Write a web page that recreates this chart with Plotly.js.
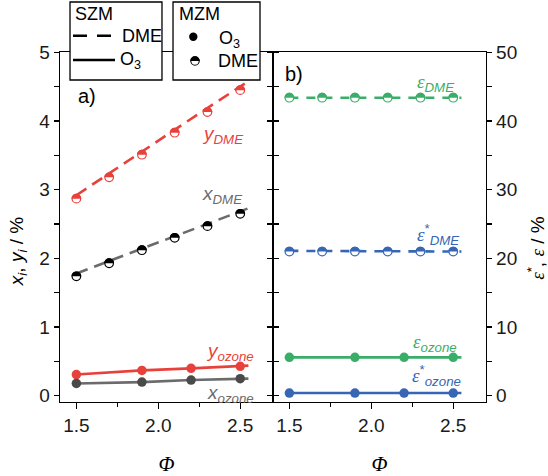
<!DOCTYPE html>
<html><head><meta charset="utf-8">
<script src="https://cdn.plot.ly/plotly-3.0.1.min.js"></script>
<style>html,body{margin:0;padding:0;background:#fff}</style>
</head><body>
<div id="chart" style="width:548px;height:476px"></div>
<script>
// ---- data ----
var phiMZM_DME = [1.5, 1.7, 1.9, 2.1, 2.3, 2.5];
var phiMZM_O3  = [1.5, 1.9, 2.2, 2.5];
var phiSZM_DME = [1.5, 1.7, 1.9, 2.1, 2.3, 2.55];
var phiSZM_O3  = [1.5, 1.9, 2.2, 2.5, 2.55];

// panel a (%, left axis)
var yDME_MZM = [2.87, 3.18, 3.51, 3.83, 4.13, 4.45];
var xDME_MZM = [1.74, 1.93, 2.12, 2.30, 2.47, 2.65];
var yDME_SZM = [2.92, 3.24, 3.55, 3.87, 4.19, 4.58];
var xDME_SZM = [1.78, 1.96, 2.14, 2.33, 2.51, 2.73];
var yO3_MZM = [0.31, 0.37, 0.40, 0.43];
var xO3_MZM = [0.18, 0.20, 0.23, 0.25];
var yO3_SZM = [0.31, 0.37, 0.40, 0.43, 0.44];
var xO3_SZM = [0.18, 0.20, 0.23, 0.25, 0.25];

// panel b (%, right axis)
var epsDME_MZM  = [43.4, 43.4, 43.4, 43.4, 43.4, 43.4];
var epssDME_MZM = [21.0, 21.0, 21.0, 21.0, 21.0, 21.0];
var epsDME_SZM  = [43.4, 43.4, 43.4, 43.4, 43.4, 43.4];
var epssDME_SZM = [21.1, 21.1, 21.1, 21.1, 21.1, 21.0];
var epsO3_MZM   = [5.6, 5.6, 5.6, 5.6];
var epssO3_MZM  = [0.4, 0.4, 0.4, 0.4];
var epsO3_SZM   = [5.6, 5.6, 5.6, 5.6, 5.6];
var epssO3_SZM  = [0.4, 0.4, 0.4, 0.4, 0.4];

var xTickText = ['1.5', '2.0', '2.5'];

// ---- style ----
var RED = '#e8413c', GRAY = '#6b6b6b', DARK = '#4a4a4a', BLACK = '#000000';
var GREEN = '#3aae68', BLUE = '#3666b4';
var LBL = 'Liberation Sans, Arial, sans-serif';
var SERIF = 'Liberation Serif, Times New Roman, serif';

// upper-half disc, pixel units relative to the anchor point (y up)
function halfPath(r) {
  var k = (0.5523 * r).toFixed(3);
  return 'M ' + (-r) + ',0 C ' + (-r) + ',' + k + ' ' + (-k) + ',' + r + ' 0,' + r +
         ' C ' + k + ',' + r + ' ' + r + ',' + k + ' ' + r + ',0 Z';
}
var HALF_R = 4.9;

function lineTrace(x, y, color, dash, xa, ya) {
  return {x: x, y: y, xaxis: xa, yaxis: ya, mode: 'lines', showlegend: false,
    line: {color: color, width: 2.6, dash: dash}, hoverinfo: 'skip'};
}
function openMarkers(x, y, color, xa, ya) {
  return {x: x, y: y, xaxis: xa, yaxis: ya, mode: 'markers', showlegend: false,
    marker: {symbol: 'circle', size: 8.6, color: '#ffffff', line: {width: 1.2, color: color}}, hoverinfo: 'skip'};
}
function fullMarkers(x, y, color, xa, ya) {
  return {x: x, y: y, xaxis: xa, yaxis: ya, mode: 'markers', showlegend: false,
    marker: {symbol: 'circle', size: 9.5, color: color, line: {width: 0}}, hoverinfo: 'skip'};
}
function halfShapes(x, y, color, xref, yref) {
  return x.map(function(v, i) {
    return {type: 'path', xref: xref, yref: yref, xsizemode: 'pixel', ysizemode: 'pixel',
      xanchor: v, yanchor: y[i], path: halfPath(HALF_R), fillcolor: color,
      line: {width: 0}, layer: 'above'};
  });
}

var DASHA = '12px,7px';
var DASHB = '9px,8px';

var data = [];
// panel a
data.push(lineTrace(phiSZM_DME, yDME_SZM, RED, DASHA, 'x', 'y'));
data.push(lineTrace(phiSZM_DME, xDME_SZM, GRAY, DASHA, 'x', 'y'));
data.push(lineTrace(phiSZM_O3, yO3_SZM, RED, 'solid', 'x', 'y'));
data.push(lineTrace(phiSZM_O3, xO3_SZM, GRAY, 'solid', 'x', 'y'));
data.push(openMarkers(phiMZM_DME, yDME_MZM, RED, 'x', 'y'));
data.push(openMarkers(phiMZM_DME, xDME_MZM, BLACK, 'x', 'y'));
data.push(fullMarkers(phiMZM_O3, yO3_MZM, RED, 'x', 'y'));
data.push(fullMarkers(phiMZM_O3, xO3_MZM, DARK, 'x', 'y'));
// panel b
data.push(lineTrace(phiSZM_DME, epsDME_SZM, GREEN, DASHB, 'x2', 'y2'));
data.push(lineTrace(phiSZM_DME, epssDME_SZM, BLUE, DASHB, 'x2', 'y2'));
data.push(lineTrace(phiSZM_O3, epsO3_SZM, GREEN, 'solid', 'x2', 'y2'));
data.push(lineTrace(phiSZM_O3, epssO3_SZM, BLUE, 'solid', 'x2', 'y2'));
data.push(openMarkers(phiMZM_DME, epsDME_MZM, GREEN, 'x2', 'y2'));
data.push(openMarkers(phiMZM_DME, epssDME_MZM, BLUE, 'x2', 'y2'));
data.push(fullMarkers(phiMZM_O3, epsO3_MZM, GREEN, 'x2', 'y2'));
data.push(fullMarkers(phiMZM_O3, epssO3_MZM, BLUE, 'x2', 'y2'));

var shapes = []
  .concat(halfShapes(phiMZM_DME, yDME_MZM, RED, 'x', 'y'))
  .concat(halfShapes(phiMZM_DME, xDME_MZM, BLACK, 'x', 'y'))
  .concat(halfShapes(phiMZM_DME, epsDME_MZM, GREEN, 'x2', 'y2'))
  .concat(halfShapes(phiMZM_DME, epssDME_MZM, BLUE, 'x2', 'y2'));

// ---- legend boxes (paper coordinates) ----
var LEG_Y0 = 0.92, LEG_Y1 = 1.1429;
shapes.push({type: 'rect', xref: 'paper', yref: 'paper', x0: 0.0235, x1: 0.2394, y0: LEG_Y0, y1: LEG_Y1,
  fillcolor: '#ffffff', line: {color: '#000', width: 1.3}, layer: 'above'});
shapes.push({type: 'rect', xref: 'paper', yref: 'paper', x0: 0.2653, x1: 0.4695, y0: LEG_Y0, y1: LEG_Y1,
  fillcolor: '#ffffff', line: {color: '#000', width: 1.3}, layer: 'above'});
// SZM samples
shapes.push({type: 'line', xref: 'paper', yref: 'paper', x0: 0.0305, x1: 0.1197, y0: 1.0466, y1: 1.0466,
  line: {color: '#000', width: 2.6, dash: '14px,10px'}, layer: 'above'});
shapes.push({type: 'line', xref: 'paper', yref: 'paper', x0: 0.0305, x1: 0.1291, y0: 0.9771, y1: 0.9771,
  line: {color: '#000', width: 2.6}, layer: 'above'});
// MZM samples
shapes.push({type: 'circle', xref: 'paper', yref: 'paper', xsizemode: 'pixel', ysizemode: 'pixel',
  xanchor: 0.3129, yanchor: 1.0437, x0: -4.2, x1: 4.2, y0: -4.2, y1: 4.2,
  fillcolor: '#000', line: {width: 0}, layer: 'above'});
shapes.push({type: 'circle', xref: 'paper', yref: 'paper', xsizemode: 'pixel', ysizemode: 'pixel',
  xanchor: 0.3169, yanchor: 0.9743, x0: -4.2, x1: 4.2, y0: -4.2, y1: 4.2,
  fillcolor: '#fff', line: {width: 1.1, color: '#000'}, layer: 'above'});
shapes.push({type: 'path', xref: 'paper', yref: 'paper', xsizemode: 'pixel', ysizemode: 'pixel',
  xanchor: 0.3169, yanchor: 0.9743, path: halfPath(4.75), fillcolor: '#000', line: {width: 0}, layer: 'above'});

var TICKFONT = {family: LBL, size: 19, color: '#1a1a1a'};

function xax(anchor, domain) {
  return {domain: domain, anchor: anchor, range: [1.4, 2.7],
    tickvals: [1.5, 2.0, 2.5], ticktext: xTickText,
    ticks: 'outside', ticklen: 6, tickwidth: 1.3, tickcolor: '#000',
    minor: {tickvals: [1.75, 2.25], ticks: 'outside', ticklen: 4, tickwidth: 1.3, tickcolor: '#000', showgrid: false},
    showline: true, linewidth: 1.3, linecolor: '#000', mirror: true,
    showgrid: false, zeroline: false, tickfont: TICKFONT,
    title: {text: '<i>Φ</i>', font: {family: SERIF, size: 21, color: '#000'}, standoff: 22}};
}

function ann(x, y, text, size, color, xanchor, extra) {
  var a = {xref: 'paper', yref: 'paper', x: x, y: y, text: text, showarrow: false,
    xanchor: xanchor || 'center', yanchor: 'middle', font: {family: LBL, size: size, color: color || '#000'}};
  if (extra) for (var k in extra) a[k] = extra[k];
  return a;
}
function dataAnn(xref, yref, x, y, text, color) {
  return {xref: xref, yref: yref, x: x, y: y, text: text, showarrow: false,
    xanchor: 'center', yanchor: 'middle', font: {family: LBL, size: 19, color: color}};
}
var EPS = '<span style="font-family:Liberation Serif"><i>ε</i></span>';

var layout = {
  width: 548, height: 476,
  margin: {l: 60, r: 62, t: 52, b: 74, autoexpand: false},
  paper_bgcolor: '#fff', plot_bgcolor: '#fff',
  font: {family: LBL, color: '#000'},
  showlegend: false,
  xaxis: xax('y', [0, 0.5]),
  xaxis2: xax('y2', [0.5, 1]),
  yaxis: {domain: [0, 1], anchor: 'x', range: [-0.09, 5.005], tick0: 0, dtick: 1,
    ticks: 'outside', ticklen: 5, tickwidth: 1.3, tickcolor: '#000',
    minor: {dtick: 0.5, ticks: 'outside', ticklen: 5, tickwidth: 1.3, tickcolor: '#000', showgrid: false},
    showline: true, linewidth: 1.3, linecolor: '#000', mirror: 'ticks',
    showgrid: false, zeroline: false, tickfont: TICKFONT},
  yaxis2: {domain: [0, 1], anchor: 'x2', side: 'right', range: [-0.9, 50.05], tick0: 0, dtick: 10,
    ticks: 'outside', ticklen: 5, tickwidth: 1.3, tickcolor: '#000',
    minor: {dtick: 5, ticks: 'outside', ticklen: 5, tickwidth: 1.3, tickcolor: '#000', showgrid: false},
    showline: true, linewidth: 1.3, linecolor: '#000', mirror: 'ticks',
    showgrid: false, zeroline: false, tickfont: TICKFONT},
  shapes: shapes,
  annotations: [
    ann(0.063, 0.874, 'a)', 20),
    ann(0.549, 0.937, 'b)', 20),
    ann(-0.0986, 0.431, '<i>x<sub>i</sub></i>, <i>y<sub>i</sub></i> / %', 19, '#000', 'center', {textangle: -90}),
    ann(1.117, 0.44, EPS + '<sup>*</sup>, ' + EPS + ' / %', 19, '#000', 'center', {textangle: -90}),
    // legend texts
    ann(0.0305, 1.1086, 'SZM', 18, '#000', 'left'),
    ann(0.1408, 1.0457, 'DME', 18, '#000', 'left'),
    ann(0.1362, 0.9743, 'O<sub>3</sub>', 18, '#000', 'left'),
    ann(0.2746, 1.1086, 'MZM', 18, '#000', 'left'),
    ann(0.3685, 1.0371, 'O<sub>3</sub>', 18, '#000', 'left'),
    ann(0.3662, 0.9743, 'DME', 18, '#000', 'left'),
    // curve labels
    dataAnn('x', 'y', 2.389, 3.79, '<i>y<sub>DME</sub></i>', RED),
    dataAnn('x', 'y', 2.389, 2.93, '<i>x<sub>DME</sub></i>', GRAY),
    dataAnn('x', 'y', 2.44, 0.64, '<i>y<sub>ozone</sub></i>', RED),
    dataAnn('x', 'y', 2.44, 0.03, '<i>x<sub>ozone</sub></i>', GRAY),
    dataAnn('x2', 'y2', 2.389, 45.6, EPS + '<i><sub>DME</sub></i>', GREEN),
    dataAnn('x2', 'y2', 2.407, 23.5, EPS + '<sup>*</sup><i><sub>DME</sub></i>', BLUE),
    dataAnn('x2', 'y2', 2.389, 7.7, EPS + '<i><sub>ozone</sub></i>', GREEN),
    dataAnn('x2', 'y2', 2.395, 2.9, EPS + '<sup>*</sup><i><sub>ozone</sub></i>', BLUE)
  ]
};

Plotly.newPlot('chart', data, layout, {displayModeBar: false, staticPlot: true});
</script>
</body></html>
